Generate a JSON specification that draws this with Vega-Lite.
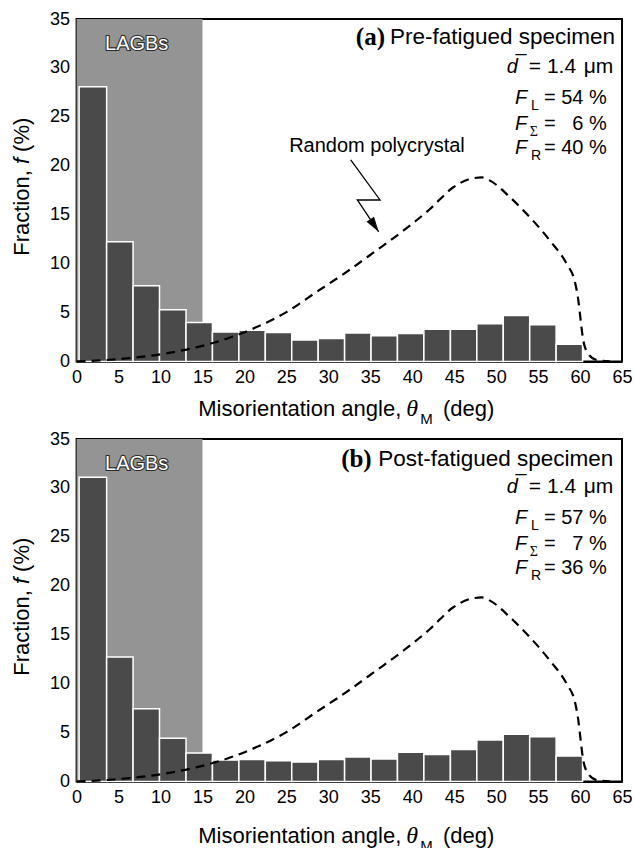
{
  "$schema": "https://vega.github.io/schema/vega-lite/v6.json",
  "padding": {"left": 9.6, "top": 9, "right": 0, "bottom": 0},
  "spacing": 0,
  "config": {
    "font": "Liberation Sans",
    "view": {"stroke": "black", "strokeWidth": 2},
    "axis": {"domainColor": "black", "domainWidth": 2, "tickColor": "black", "tickWidth": 1.5, "tickSize": -5, "labelFont": "Liberation Sans", "labelFontSize": 18, "labelColor": "black", "titleFont": "Liberation Sans", "titleFontSize": 22, "titleFontWeight": "normal", "titleColor": "black", "grid": false, "labelFlush": false, "labelOverlap": false},
    "text": {"font": "Liberation Sans", "color": "black"}
  },
  "datasets": {
    "lagb": [{"from": 0, "to": 15, "low": 0, "high": 35}],
    "bars_a": [
      {"start": 0.3, "end": 3.58, "f": 28.08}, {"start": 3.58, "end": 6.73, "f": 12.24}, {"start": 6.73, "end": 9.88, "f": 7.74},
      {"start": 9.88, "end": 13.04, "f": 5.27}, {"start": 13.04, "end": 16.19, "f": 3.97}, {"start": 16.19, "end": 19.34, "f": 3.0},
      {"start": 19.34, "end": 22.49, "f": 3.18}, {"start": 22.49, "end": 25.64, "f": 2.95}, {"start": 25.64, "end": 28.79, "f": 2.19},
      {"start": 28.79, "end": 31.94, "f": 2.34}, {"start": 31.94, "end": 35.09, "f": 2.9}, {"start": 35.09, "end": 38.24, "f": 2.61},
      {"start": 38.24, "end": 41.39, "f": 2.86}, {"start": 41.39, "end": 44.55, "f": 3.29}, {"start": 44.55, "end": 47.7, "f": 3.29},
      {"start": 47.7, "end": 50.85, "f": 3.85}, {"start": 50.85, "end": 54.0, "f": 4.7}, {"start": 54.0, "end": 57.15, "f": 3.75},
      {"start": 57.15, "end": 60.3, "f": 1.76}
    ],
    "bars_b": [
      {"start": 0.3, "end": 3.58, "f": 31.08}, {"start": 3.58, "end": 6.73, "f": 12.71}, {"start": 6.73, "end": 9.88, "f": 7.43},
      {"start": 9.88, "end": 13.04, "f": 4.4}, {"start": 13.04, "end": 16.19, "f": 2.9}, {"start": 16.19, "end": 19.34, "f": 2.18},
      {"start": 19.34, "end": 22.49, "f": 2.25}, {"start": 22.49, "end": 25.64, "f": 2.11}, {"start": 25.64, "end": 28.79, "f": 1.98},
      {"start": 28.79, "end": 31.94, "f": 2.25}, {"start": 31.94, "end": 35.09, "f": 2.49}, {"start": 35.09, "end": 38.24, "f": 2.28},
      {"start": 38.24, "end": 41.39, "f": 2.97}, {"start": 41.39, "end": 44.55, "f": 2.76}, {"start": 44.55, "end": 47.7, "f": 3.27},
      {"start": 47.7, "end": 50.85, "f": 4.23}, {"start": 50.85, "end": 54.0, "f": 4.81}, {"start": 54.0, "end": 57.15, "f": 4.57},
      {"start": 57.15, "end": 60.3, "f": 2.59}
    ],
    "curve": [
      {"angle": 0, "f": 0}, {"angle": 3.5, "f": 0.14}, {"angle": 7.1, "f": 0.41}, {"angle": 10.66, "f": 0.82},
      {"angle": 14.23, "f": 1.43}, {"angle": 17.8, "f": 2.29}, {"angle": 21.38, "f": 3.48}, {"angle": 24.96, "f": 5.01},
      {"angle": 28.53, "f": 7.06}, {"angle": 32.1, "f": 9.1}, {"angle": 35.5, "f": 11.2}, {"angle": 38.94, "f": 13.36},
      {"angle": 42.12, "f": 15.58}, {"angle": 44.9, "f": 17.8}, {"angle": 46.89, "f": 18.65}, {"angle": 48.28, "f": 18.81},
      {"angle": 49.27, "f": 18.48}, {"angle": 51.66, "f": 16.77}, {"angle": 54.04, "f": 14.72}, {"angle": 56.42, "f": 12.34},
      {"angle": 58.41, "f": 9.96}, {"angle": 59.4, "f": 8.08}, {"angle": 59.8, "f": 6.21}, {"angle": 60.08, "f": 4.16},
      {"angle": 60.39, "f": 2.12}, {"angle": 60.99, "f": 0.76}, {"angle": 61.99, "f": 0.14}, {"angle": 63.57, "f": 0}
    ],
    "bolt": [
      {"i": 1, "x": 32.67, "y": 20.6}, {"i": 2, "x": 36.16, "y": 16.5}, {"i": 3, "x": 33.46, "y": 16.5}, {"i": 4, "x": 36.0, "y": 13.25}
    ],
    "text_a": [
      {"kind": "lagb", "x": 7.16, "y": 32.45, "t": "LAGBs"},
      {"kind": "title", "x": 64.17, "y": 33.12, "t": "Pre-fatigued specimen"},
      {"kind": "tag", "x": 36.75, "y": 33.12, "t": "(a)"},
      {"kind": "italic", "x": 51.26, "y": 30.05, "t": "d"},
      {"kind": "italic", "x": 52.3, "y": 30.35, "t": "¯"},
      {"kind": "italic", "x": 52.25, "y": 26.92, "t": "F"},
      {"kind": "italic", "x": 52.25, "y": 24.27, "t": "F"},
      {"kind": "italic", "x": 52.25, "y": 21.85, "t": "F"},
      {"kind": "dval", "x": 63.96, "y": 30.05, "t": "= 1.4 \u200aμm"},
      {"kind": "value", "x": 63.18, "y": 26.92, "t": "= 54 %"},
      {"kind": "value", "x": 63.18, "y": 24.27, "t": "= \u00a0\u00a06 %"},
      {"kind": "value", "x": 63.18, "y": 21.85, "t": "= 40 %"},
      {"kind": "sub", "x": 54.15, "y": 26.1, "t": "L"},
      {"kind": "subsym", "x": 54.0, "y": 23.45, "t": "Σ"},
      {"kind": "sub", "x": 54.15, "y": 21.03, "t": "R"},
      {"kind": "note", "x": 35.8, "y": 22.05, "t": "Random polycrystal"},
      {"kind": "xtitle", "x": 14.5, "y": -4.87, "t": "Misorientation angle,"},
      {"kind": "xtitle", "x": 43.67, "y": -4.87, "t": "(deg)"},
      {"kind": "xtheta", "x": 39.3, "y": -4.87, "t": "θ"},
      {"kind": "xsub", "x": 40.95, "y": -5.89, "t": "M"},
      {"kind": "ytitle", "x": -6.54, "y": 10.8, "t": "Fraction,"},
      {"kind": "ytitle_i", "x": -6.54, "y": 20.17, "t": "f"},
      {"kind": "ytitle", "x": -6.54, "y": 21.41, "t": "(%)"}
    ],
    "text_b": [
      {"kind": "lagb", "x": 7.16, "y": 32.45, "t": "LAGBs"},
      {"kind": "title", "x": 63.96, "y": 33.0, "t": "Post-fatigued specimen"},
      {"kind": "tag", "x": 35.17, "y": 33.0, "t": "(b)"},
      {"kind": "italic", "x": 51.26, "y": 30.05, "t": "d"},
      {"kind": "italic", "x": 52.3, "y": 30.35, "t": "¯"},
      {"kind": "italic", "x": 52.25, "y": 26.92, "t": "F"},
      {"kind": "italic", "x": 52.25, "y": 24.27, "t": "F"},
      {"kind": "italic", "x": 52.25, "y": 21.85, "t": "F"},
      {"kind": "dval", "x": 63.96, "y": 30.05, "t": "= 1.4 \u200aμm"},
      {"kind": "value", "x": 63.18, "y": 26.92, "t": "= 57 %"},
      {"kind": "value", "x": 63.18, "y": 24.27, "t": "= \u00a0\u00a07 %"},
      {"kind": "value", "x": 63.18, "y": 21.85, "t": "= 36 %"},
      {"kind": "sub", "x": 54.15, "y": 26.1, "t": "L"},
      {"kind": "subsym", "x": 54.0, "y": 23.45, "t": "Σ"},
      {"kind": "sub", "x": 54.15, "y": 21.03, "t": "R"},
      {"kind": "xtitle", "x": 14.5, "y": -5.55, "t": "Misorientation angle,"},
      {"kind": "xtitle", "x": 43.67, "y": -5.55, "t": "(deg)"},
      {"kind": "xtheta", "x": 39.3, "y": -5.55, "t": "θ"},
      {"kind": "xsub", "x": 40.95, "y": -6.57, "t": "M"},
      {"kind": "ytitle", "x": -6.54, "y": 10.8, "t": "Fraction,"},
      {"kind": "ytitle_i", "x": -6.54, "y": 20.17, "t": "f"},
      {"kind": "ytitle", "x": -6.54, "y": 21.41, "t": "(%)"}
    ]
  },
  "vconcat": [
    {
      "width": 545.4, "height": 342.4,
      "layer": [
        {"data": {"name": "lagb"}, "mark": {"type": "rect", "fill": "#949494"},
         "encoding": {
           "x": {"field": "from", "type": "quantitative", "scale": {"domain": [0, 65], "nice": false, "zero": false}, "axis": {"values": [0, 5, 10, 15, 20, 25, 30, 35, 40, 45, 50, 55, 60, 65], "title": null, "labelPadding": 12}},
           "x2": {"field": "to"},
           "y": {"field": "low", "type": "quantitative", "scale": {"domain": [0, 35], "nice": false}, "axis": {"values": [0, 5, 10, 15, 20, 25, 30, 35], "title": null, "labelPadding": 12}},
           "y2": {"field": "high"}}},
        {"data": {"name": "bars_a"}, "mark": {"type": "rect", "fill": "#4a4a4a", "stroke": "white", "strokeWidth": 1.5},
         "encoding": {"x": {"field": "start", "type": "quantitative"}, "x2": {"field": "end"}, "y": {"field": "f", "type": "quantitative"}, "y2": {"datum": 0}}},
        {"data": {"name": "curve"}, "mark": {"type": "line", "color": "black", "strokeWidth": 2.2, "strokeDash": [9, 6], "interpolate": "monotone"},
         "encoding": {"x": {"field": "angle", "type": "quantitative"}, "y": {"field": "f", "type": "quantitative"}}},
        {"data": {"name": "bolt"}, "mark": {"type": "line", "color": "black", "strokeWidth": 1.3},
         "encoding": {"x": {"field": "x", "type": "quantitative"}, "y": {"field": "y", "type": "quantitative"}, "order": {"field": "i"}}},
        {"data": {"name": "bolt"}, "transform": [{"filter": "datum.i == 4"}], "mark": {"type": "point", "shape": "M0,0 L-0.3,-1 L0.3,-1 Z", "size": 900, "filled": true, "color": "black", "opacity": 1, "angle": -34},
         "encoding": {"x": {"field": "x", "type": "quantitative"}, "y": {"field": "y", "type": "quantitative"}}},
        {"data": {"name": "text_a"}, "transform": [{"filter": "datum.kind == 'lagb'"}], "mark": {"type": "text", "fontSize": 20, "align": "center", "baseline": "middle", "fill": "#2a2a2a", "stroke": "#2a2a2a", "strokeWidth": 2.2},
         "encoding": {"x": {"field": "x", "type": "quantitative"}, "y": {"field": "y", "type": "quantitative"}, "text": {"field": "t"}}},
        {"data": {"name": "text_a"}, "transform": [{"filter": "datum.kind == 'lagb'"}], "mark": {"type": "text", "fontSize": 20, "align": "center", "baseline": "middle", "fill": "white"},
         "encoding": {"x": {"field": "x", "type": "quantitative"}, "y": {"field": "y", "type": "quantitative"}, "text": {"field": "t"}}},
        {"data": {"name": "text_a"}, "transform": [{"filter": "datum.kind == 'title'"}], "mark": {"type": "text", "fontSize": 22.5, "align": "right", "baseline": "middle"},
         "encoding": {"x": {"field": "x", "type": "quantitative"}, "y": {"field": "y", "type": "quantitative"}, "text": {"field": "t"}}},
        {"data": {"name": "text_a"}, "transform": [{"filter": "datum.kind == 'tag'"}], "mark": {"type": "text", "font": "Liberation Serif", "fontWeight": "bold", "fontSize": 25, "align": "right", "baseline": "middle"},
         "encoding": {"x": {"field": "x", "type": "quantitative"}, "y": {"field": "y", "type": "quantitative"}, "text": {"field": "t"}}},
        {"data": {"name": "text_a"}, "transform": [{"filter": "datum.kind == 'italic'"}], "mark": {"type": "text", "fontSize": 20, "fontStyle": "italic", "align": "left", "baseline": "middle"},
         "encoding": {"x": {"field": "x", "type": "quantitative"}, "y": {"field": "y", "type": "quantitative"}, "text": {"field": "t"}}},
        {"data": {"name": "text_a"}, "transform": [{"filter": "datum.kind == 'value'"}], "mark": {"type": "text", "fontSize": 20, "align": "right", "baseline": "middle"},
         "encoding": {"x": {"field": "x", "type": "quantitative"}, "y": {"field": "y", "type": "quantitative"}, "text": {"field": "t"}}},
        {"data": {"name": "text_a"}, "transform": [{"filter": "datum.kind == 'dval'"}], "mark": {"type": "text", "fontSize": 21, "align": "right", "baseline": "middle"},
         "encoding": {"x": {"field": "x", "type": "quantitative"}, "y": {"field": "y", "type": "quantitative"}, "text": {"field": "t"}}},
        {"data": {"name": "text_a"}, "transform": [{"filter": "datum.kind == 'sub'"}], "mark": {"type": "text", "fontSize": 14, "align": "left", "baseline": "middle"},
         "encoding": {"x": {"field": "x", "type": "quantitative"}, "y": {"field": "y", "type": "quantitative"}, "text": {"field": "t"}}},
        {"data": {"name": "text_a"}, "transform": [{"filter": "datum.kind == 'subsym'"}], "mark": {"type": "text", "font": "Liberation Serif", "fontSize": 14, "align": "left", "baseline": "middle"},
         "encoding": {"x": {"field": "x", "type": "quantitative"}, "y": {"field": "y", "type": "quantitative"}, "text": {"field": "t"}}},
        {"data": {"name": "text_a"}, "transform": [{"filter": "datum.kind == 'note'"}], "mark": {"type": "text", "fontSize": 20, "align": "center", "baseline": "middle"},
         "encoding": {"x": {"field": "x", "type": "quantitative"}, "y": {"field": "y", "type": "quantitative"}, "text": {"field": "t"}}},
        {"data": {"name": "text_a"}, "transform": [{"filter": "datum.kind == 'xtitle'"}], "mark": {"type": "text", "fontSize": 22, "align": "left", "baseline": "middle"},
         "encoding": {"x": {"field": "x", "type": "quantitative"}, "y": {"field": "y", "type": "quantitative"}, "text": {"field": "t"}}},
        {"data": {"name": "text_a"}, "transform": [{"filter": "datum.kind == 'xtheta'"}], "mark": {"type": "text", "font": "Liberation Serif", "fontStyle": "italic", "fontSize": 24, "align": "left", "baseline": "middle"},
         "encoding": {"x": {"field": "x", "type": "quantitative"}, "y": {"field": "y", "type": "quantitative"}, "text": {"field": "t"}}},
        {"data": {"name": "text_a"}, "transform": [{"filter": "datum.kind == 'xsub'"}], "mark": {"type": "text", "fontSize": 15, "align": "left", "baseline": "middle"},
         "encoding": {"x": {"field": "x", "type": "quantitative"}, "y": {"field": "y", "type": "quantitative"}, "text": {"field": "t"}}},
        {"data": {"name": "text_a"}, "transform": [{"filter": "datum.kind == 'ytitle'"}], "mark": {"type": "text", "fontSize": 22, "angle": 270, "align": "left", "baseline": "middle"},
         "encoding": {"x": {"field": "x", "type": "quantitative"}, "y": {"field": "y", "type": "quantitative"}, "text": {"field": "t"}}},
        {"data": {"name": "text_a"}, "transform": [{"filter": "datum.kind == 'ytitle_i'"}], "mark": {"type": "text", "fontSize": 22, "fontStyle": "italic", "angle": 270, "align": "left", "baseline": "middle"},
         "encoding": {"x": {"field": "x", "type": "quantitative"}, "y": {"field": "y", "type": "quantitative"}, "text": {"field": "t"}}}
      ]
    },
    {
      "width": 545.4, "height": 342.4,
      "layer": [
        {"data": {"name": "lagb"}, "mark": {"type": "rect", "fill": "#949494"},
         "encoding": {
           "x": {"field": "from", "type": "quantitative", "scale": {"domain": [0, 65], "nice": false, "zero": false}, "axis": {"values": [0, 5, 10, 15, 20, 25, 30, 35, 40, 45, 50, 55, 60, 65], "title": null, "labelPadding": 12}},
           "x2": {"field": "to"},
           "y": {"field": "low", "type": "quantitative", "scale": {"domain": [0, 35], "nice": false}, "axis": {"values": [0, 5, 10, 15, 20, 25, 30, 35], "title": null, "labelPadding": 12}},
           "y2": {"field": "high"}}},
        {"data": {"name": "bars_b"}, "mark": {"type": "rect", "fill": "#4a4a4a", "stroke": "white", "strokeWidth": 1.5},
         "encoding": {"x": {"field": "start", "type": "quantitative"}, "x2": {"field": "end"}, "y": {"field": "f", "type": "quantitative"}, "y2": {"datum": 0}}},
        {"data": {"name": "curve"}, "mark": {"type": "line", "color": "black", "strokeWidth": 2.2, "strokeDash": [9, 6], "interpolate": "monotone"},
         "encoding": {"x": {"field": "angle", "type": "quantitative"}, "y": {"field": "f", "type": "quantitative"}}},
        {"data": {"name": "text_b"}, "transform": [{"filter": "datum.kind == 'lagb'"}], "mark": {"type": "text", "fontSize": 20, "align": "center", "baseline": "middle", "fill": "#2a2a2a", "stroke": "#2a2a2a", "strokeWidth": 2.2},
         "encoding": {"x": {"field": "x", "type": "quantitative"}, "y": {"field": "y", "type": "quantitative"}, "text": {"field": "t"}}},
        {"data": {"name": "text_b"}, "transform": [{"filter": "datum.kind == 'lagb'"}], "mark": {"type": "text", "fontSize": 20, "align": "center", "baseline": "middle", "fill": "white"},
         "encoding": {"x": {"field": "x", "type": "quantitative"}, "y": {"field": "y", "type": "quantitative"}, "text": {"field": "t"}}},
        {"data": {"name": "text_b"}, "transform": [{"filter": "datum.kind == 'title'"}], "mark": {"type": "text", "fontSize": 22.5, "align": "right", "baseline": "middle"},
         "encoding": {"x": {"field": "x", "type": "quantitative"}, "y": {"field": "y", "type": "quantitative"}, "text": {"field": "t"}}},
        {"data": {"name": "text_b"}, "transform": [{"filter": "datum.kind == 'tag'"}], "mark": {"type": "text", "font": "Liberation Serif", "fontWeight": "bold", "fontSize": 25, "align": "right", "baseline": "middle"},
         "encoding": {"x": {"field": "x", "type": "quantitative"}, "y": {"field": "y", "type": "quantitative"}, "text": {"field": "t"}}},
        {"data": {"name": "text_b"}, "transform": [{"filter": "datum.kind == 'italic'"}], "mark": {"type": "text", "fontSize": 20, "fontStyle": "italic", "align": "left", "baseline": "middle"},
         "encoding": {"x": {"field": "x", "type": "quantitative"}, "y": {"field": "y", "type": "quantitative"}, "text": {"field": "t"}}},
        {"data": {"name": "text_b"}, "transform": [{"filter": "datum.kind == 'value'"}], "mark": {"type": "text", "fontSize": 20, "align": "right", "baseline": "middle"},
         "encoding": {"x": {"field": "x", "type": "quantitative"}, "y": {"field": "y", "type": "quantitative"}, "text": {"field": "t"}}},
        {"data": {"name": "text_b"}, "transform": [{"filter": "datum.kind == 'dval'"}], "mark": {"type": "text", "fontSize": 21, "align": "right", "baseline": "middle"},
         "encoding": {"x": {"field": "x", "type": "quantitative"}, "y": {"field": "y", "type": "quantitative"}, "text": {"field": "t"}}},
        {"data": {"name": "text_b"}, "transform": [{"filter": "datum.kind == 'sub'"}], "mark": {"type": "text", "fontSize": 14, "align": "left", "baseline": "middle"},
         "encoding": {"x": {"field": "x", "type": "quantitative"}, "y": {"field": "y", "type": "quantitative"}, "text": {"field": "t"}}},
        {"data": {"name": "text_b"}, "transform": [{"filter": "datum.kind == 'subsym'"}], "mark": {"type": "text", "font": "Liberation Serif", "fontSize": 14, "align": "left", "baseline": "middle"},
         "encoding": {"x": {"field": "x", "type": "quantitative"}, "y": {"field": "y", "type": "quantitative"}, "text": {"field": "t"}}},
        {"data": {"name": "text_b"}, "transform": [{"filter": "datum.kind == 'xtitle'"}], "mark": {"type": "text", "fontSize": 22, "align": "left", "baseline": "middle"},
         "encoding": {"x": {"field": "x", "type": "quantitative"}, "y": {"field": "y", "type": "quantitative"}, "text": {"field": "t"}}},
        {"data": {"name": "text_b"}, "transform": [{"filter": "datum.kind == 'xtheta'"}], "mark": {"type": "text", "font": "Liberation Serif", "fontStyle": "italic", "fontSize": 24, "align": "left", "baseline": "middle"},
         "encoding": {"x": {"field": "x", "type": "quantitative"}, "y": {"field": "y", "type": "quantitative"}, "text": {"field": "t"}}},
        {"data": {"name": "text_b"}, "transform": [{"filter": "datum.kind == 'xsub'"}], "mark": {"type": "text", "fontSize": 15, "align": "left", "baseline": "middle"},
         "encoding": {"x": {"field": "x", "type": "quantitative"}, "y": {"field": "y", "type": "quantitative"}, "text": {"field": "t"}}},
        {"data": {"name": "text_b"}, "transform": [{"filter": "datum.kind == 'ytitle'"}], "mark": {"type": "text", "fontSize": 22, "angle": 270, "align": "left", "baseline": "middle"},
         "encoding": {"x": {"field": "x", "type": "quantitative"}, "y": {"field": "y", "type": "quantitative"}, "text": {"field": "t"}}},
        {"data": {"name": "text_b"}, "transform": [{"filter": "datum.kind == 'ytitle_i'"}], "mark": {"type": "text", "fontSize": 22, "fontStyle": "italic", "angle": 270, "align": "left", "baseline": "middle"},
         "encoding": {"x": {"field": "x", "type": "quantitative"}, "y": {"field": "y", "type": "quantitative"}, "text": {"field": "t"}}}
      ]
    }
  ]
}
